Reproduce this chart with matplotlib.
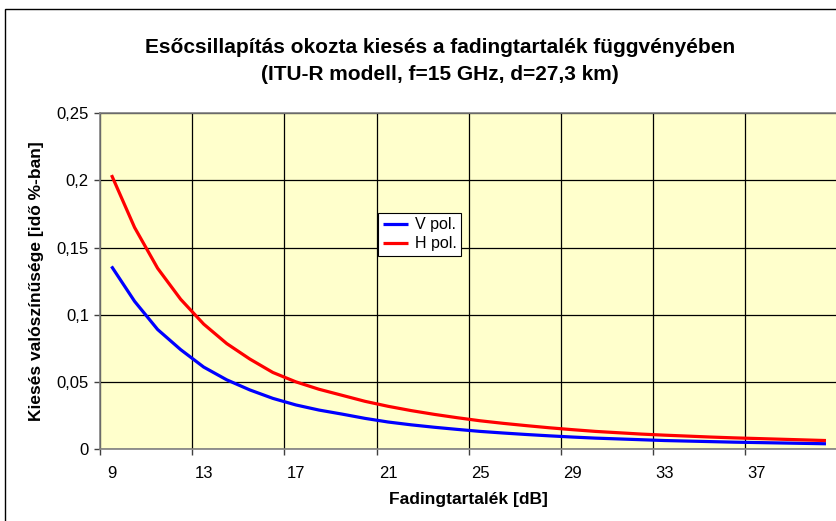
import matplotlib
matplotlib.use("Agg")
import matplotlib.pyplot as plt
from matplotlib.patches import Rectangle
from matplotlib.ticker import FixedLocator, FuncFormatter

plt.rcParams["font.family"] = ["Liberation Sans", "DejaVu Sans"]

# Fading margin categories [dB] and outage probability [% of time].
margin_db = list(range(9, 41))
v_pol = [0.136, 0.110, 0.089, 0.074, 0.061, 0.0515, 0.044, 0.0377, 0.0328,
         0.029, 0.026, 0.0228, 0.0201, 0.0180, 0.0162, 0.0146, 0.0131, 0.0119,
         0.0108, 0.0098, 0.0089, 0.0081, 0.0075, 0.0069, 0.0063, 0.0059,
         0.0055, 0.0051, 0.0048, 0.0045, 0.0042, 0.0039]
h_pol = [0.204, 0.165, 0.1346, 0.1115, 0.093, 0.0785, 0.067, 0.057, 0.050,
         0.0445, 0.040, 0.0355, 0.0318, 0.0286, 0.0258, 0.0233, 0.0210,
         0.0191, 0.0174, 0.0158, 0.0144, 0.0131, 0.0121, 0.0111, 0.0103,
         0.0096, 0.0089, 0.0083, 0.0078, 0.0073, 0.0068, 0.0063]
x_tick_labels = [9, 13, 17, 21, 25, 29, 33, 37]
y_ticks = [0, 0.05, 0.1, 0.15, 0.2, 0.25]

W, H = 836, 521
fig = plt.figure(figsize=(W / 100, H / 100), dpi=100)

# Outer chart border (right/bottom run off the picture).
fig.patches.append(Rectangle((5 / W, -0.05), 1.1, 1 - 9 / H + 0.05,
                             transform=fig.transFigure, fill=False,
                             edgecolor="black", linewidth=1.0))

left, top, bottom, right = 100, 113.3, 449, 837.5
ax = fig.add_axes([left / W, (H - bottom) / H, (right - left) / W,
                   (bottom - top) / H])
ax.set_facecolor("#FFFFCC")

ax.plot(margin_db, v_pol, color="#0000FF", linewidth=2.3, label="V pol.",
        solid_capstyle="butt", zorder=3)
ax.plot(margin_db, h_pol, color="#FF0000", linewidth=2.3, label="H pol.",
        solid_capstyle="butt", zorder=3)

ax.set_xlim(8.5, 40.5)
ax.set_ylim(0, 0.25)

# Excel-style category axis: ticks/gridlines between categories, labels on them.
ax.xaxis.set_major_locator(FixedLocator([8.5 + 4 * i for i in range(9)]))
ax.xaxis.set_major_formatter(FuncFormatter(lambda v, p: ""))
ax.xaxis.set_minor_locator(FixedLocator(x_tick_labels))
ax.xaxis.set_minor_formatter(FuncFormatter(lambda v, p: f"{v:.0f}"))
ax.tick_params(axis="x", which="major", direction="out", length=4,
               color="#404040", width=1)
ax.tick_params(axis="x", which="minor", length=0, pad=12, labelsize=12)

ax.set_yticks(y_ticks)
ax.yaxis.set_major_formatter(
    FuncFormatter(lambda v, p: f"{v:g}".replace(".", ",")))
ax.tick_params(axis="y", direction="out", length=4, color="#404040",
               width=1, pad=4, labelsize=12)

ax.grid(True, which="major", color="black", linewidth=0.9)
ax.set_axisbelow(True)
for side in ["left", "bottom", "top", "right"]:
    ax.spines[side].set_color("#808080")
    ax.spines[side].set_linewidth(1.2)

ax.set_xlabel("Fadingtartalék [dB]", fontsize=12.5, fontweight="bold",
              labelpad=8)
ax.set_ylabel("Kiesés valószínűsége [idő %-ban]", fontsize=12.5,
              fontweight="bold", labelpad=9)

fig.text(440 / W, 1 - 47 / H,
         "Esőcsillapítás okozta kiesés a fadingtartalék függvényében",
         ha="center", va="center", fontsize=15, fontweight="bold")
fig.text(440 / W, 1 - 75 / H, "(ITU-R modell, f=15 GHz, d=27,3 km)",
         ha="center", va="center", fontsize=15, fontweight="bold")

leg = ax.legend(loc="upper left", bbox_to_anchor=((378 - left) / (right - left),
                                                   (bottom - 212.7) / (bottom - top)),
                frameon=True, fancybox=False, fontsize=11.5, handlelength=1.6,
                handletextpad=0.4, borderpad=0.3, labelspacing=0.25,
                borderaxespad=0)
leg.get_frame().set_edgecolor("black")
leg.get_frame().set_linewidth(0.8)
leg.get_frame().set_facecolor("white")
leg.get_frame().set_alpha(1)

fig.savefig("out.png", dpi=100)
